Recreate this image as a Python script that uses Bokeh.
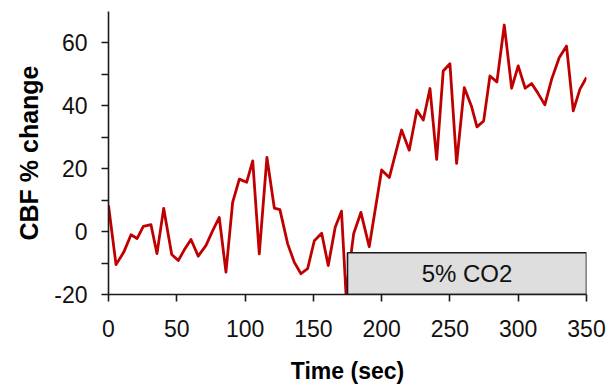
from bokeh.plotting import figure
from bokeh.models import FixedTicker, Range1d, ColumnDataSource, PrintfTickFormatter
from bokeh.core.properties import value
from bokeh.embed import file_html
from bokeh.resources import INLINE

# ---- data ----
time_sec = [0, 5.5, 11.1, 16.5, 20.9, 25.5, 31.1, 35.5, 40.4, 46.3, 51.1, 55.5, 60.4, 65.7,
            71.4, 76.3, 81.1, 86.0, 90.9, 95.8, 101.2, 105.6, 110.4, 116.0, 121.4, 125.5,
            131.2, 136.0, 140.9, 145.8, 150.7, 156.1, 160.9, 166.0, 170.6, 173.9, 179.5,
            184.8, 190.9, 200.0, 205.6, 214.6, 220.2, 225.8, 230.5, 235.4, 240.3, 245.1,
            250.0, 254.9, 260.5, 265.9, 269.8, 274.7, 279.3, 284.4, 289.8, 295.2, 300.0,
            305.1, 309.8, 314.2, 319.5, 324.5, 330.0, 335.4, 340.3, 345.2, 350.0]
cbf_change = [8.3, -10.5, -6.6, -1.0, -2.2, 1.7, 2.2, -7.0, 7.4, -7.3, -9.2, -5.8, -2.5, -7.8,
              -4.4, 0.3, 4.5, -12.9, 9.3, 16.7, 15.7, 22.5, -7.1, 23.6, 7.5, 7.0,
              -3.9, -9.7, -13.4, -11.8, -2.9, -0.5, -10.8, 1.4, 6.5, -19.8, -0.7,
              6.1, -4.8, 19.6, 17.2, 32.3, 25.9, 38.6, 35.5, 45.5, 23.0, 51.1,
              53.4, 21.7, 45.8, 39.7, 33.3, 35.2, 49.5, 47.6, 65.7, 45.6, 52.7,
              45.6, 47.1, 44.2, 40.3, 48.5, 55.3, 59.0, 38.4, 45.3, 49.0]

co2_label = ["5% CO2"]
co2_start = [175]
co2_end = [350]
co2_bottom = [-20]
co2_top = [-6.7]

x_ticks = [0, 50, 100, 150, 200, 250, 300, 350]
y_ticks = [-20, 0, 20, 40, 60]
y_minor_ticks = [-10, 10, 30, 50]
x_title = "Time (sec)"
y_title = "CBF % change"

# ---- figure ----
p = figure(frame_width=478, frame_height=283,
           min_border_left=108, min_border_right=22, min_border_top=11, min_border_bottom=94,
           x_range=Range1d(0, 350), y_range=Range1d(-20, 70),
           output_backend="svg", toolbar_location=None)
p.background_fill_color = "white"
p.border_fill_color = "white"
p.outline_line_color = None
p.xgrid.visible = False
p.ygrid.visible = False

FONT = "Liberation Sans"
AX_COLOR = "#1a1a1a"

p.xaxis.ticker = FixedTicker(ticks=x_ticks)
p.yaxis.ticker = FixedTicker(ticks=y_ticks, minor_ticks=y_minor_ticks)
p.xaxis.formatter = PrintfTickFormatter(format="%d")
p.yaxis.formatter = PrintfTickFormatter(format="%d")

for ax in (p.xaxis[0], p.yaxis[0]):
    ax.axis_line_color = AX_COLOR
    ax.axis_line_width = 1.6
    ax.major_tick_line_color = AX_COLOR
    ax.major_tick_line_width = 1.6
    ax.major_tick_in = 0
    ax.major_tick_out = 7
    ax.minor_tick_line_color = AX_COLOR
    ax.minor_tick_line_width = 1.6
    ax.minor_tick_in = 0
    ax.minor_tick_out = 7
    ax.major_label_text_font = FONT
    ax.major_label_text_font_size = "23px"
    ax.major_label_text_color = "#111111"
    ax.axis_label_text_font = FONT
    ax.axis_label_text_font_style = "bold"
    ax.axis_label_text_color = "black"

p.xaxis.minor_tick_line_color = None
p.xaxis.axis_label = x_title
p.xaxis.axis_label_text_font_size = "23px"
p.xaxis.major_label_standoff = 18
p.xaxis.axis_label_standoff = 18

p.yaxis.axis_label = y_title
p.yaxis.axis_label_text_font_size = "25px"
p.yaxis.major_label_standoff = 14
p.yaxis.axis_label_standoff = 8

src = ColumnDataSource(dict(t=time_sec, v=cbf_change))
p.line("t", "v", source=src, line_color="#C00000", line_width=2.8, line_join="round")

box = ColumnDataSource(dict(l=co2_start, r=co2_end, b=co2_bottom, t=co2_top, label=co2_label,
                            xm=[(a + b) / 2 for a, b in zip(co2_start, co2_end)],
                            ym=[(a + b) / 2 for a, b in zip(co2_bottom, co2_top)]))
p.quad(left="l", right="r", bottom="b", top="t", source=box,
       fill_color="#DEDEDE", line_color="#1a1a1a", line_width=1.6)
p.text(x="xm", y="ym", text="label", source=box, text_align="center", text_baseline="middle",
       text_font=value(FONT), text_font_size="24px", text_color="#111111")

open("out.html", "w").write(file_html(p, INLINE))
